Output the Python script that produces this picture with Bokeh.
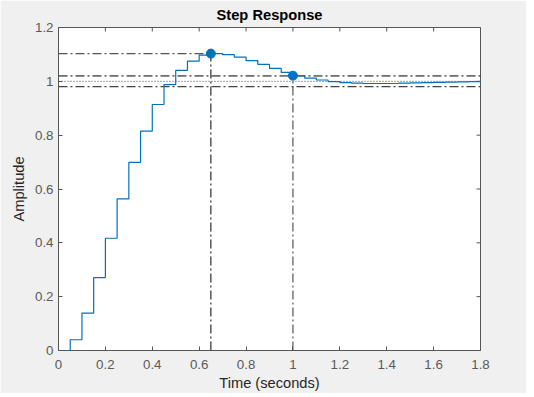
import math
from bokeh.plotting import figure
from bokeh.models import FixedTicker, CustomJSTickFormatter, Range1d
from bokeh.embed import file_html
from bokeh.resources import INLINE

# ---- data ----
time_s = [0.00, 0.05, 0.10, 0.15, 0.20, 0.25, 0.30, 0.35, 0.40, 0.45,
          0.50, 0.55, 0.60, 0.65, 0.70, 0.75, 0.80, 0.85, 0.90, 0.95,
          1.00, 1.05, 1.10, 1.15, 1.20, 1.25, 1.30, 1.35, 1.40, 1.45,
          1.50, 1.55, 1.60, 1.65, 1.70, 1.75, 1.80]
amplitude = [0.000, 0.040, 0.139, 0.271, 0.417, 0.563, 0.699, 0.815, 0.914, 0.988,
             1.041, 1.075, 1.097, 1.103, 1.099, 1.090, 1.077, 1.063, 1.048, 1.033,
             1.021, 1.012, 1.005, 0.999, 0.995, 0.993, 0.992, 0.992, 0.992, 0.993,
             0.994, 0.995, 0.996, 0.997, 0.998, 0.999, 1.000]

peak_time = 0.65
peak_amp = 1.103
settle_time = 1.00
settle_amp = 1.021
final_value = 1.0
band_upper = 1.02
band_lower = 0.98

x_ticks = [0, 0.2, 0.4, 0.6, 0.8, 1.0, 1.2, 1.4, 1.6, 1.8]
y_ticks = [0, 0.2, 0.4, 0.6, 0.8, 1.0, 1.2]
x_lim = (0, 1.8)
y_lim = (0, 1.2)

FONT = "Liberation Sans"
BLUE = "#0072BD"
AXC = "#555555"

p = figure(frame_width=422, frame_height=323,
           x_range=Range1d(*x_lim), y_range=Range1d(*y_lim),
           output_backend="svg", toolbar_location=None,
           min_border_left=58, min_border_right=46,
           min_border_top=27, min_border_bottom=39,
           title="Step Response")

p.background_fill_color = "white"
p.border_fill_color = "#f0f0f0"
p.outline_line_color = AXC
p.outline_line_width = 1
p.xgrid.visible = False
p.ygrid.visible = False

p.title.align = "center"
p.title.text_font = FONT
p.title.text_font_size = "11pt"
p.title.text_font_style = "bold"
p.title.text_color = "black"
p.title.standoff = 9

fmt = CustomJSTickFormatter(code="return Number(tick.toFixed(1)).toString();")

xa = p.xaxis[0]
xa.ticker = FixedTicker(ticks=x_ticks)
xa.formatter = fmt
xa.axis_label = "Time (seconds)"
ya = p.yaxis[0]
ya.ticker = FixedTicker(ticks=y_ticks)
ya.formatter = fmt
ya.axis_label = "Amplitude"

for ax in (xa, ya):
    ax.axis_line_color = None
    ax.major_tick_in = 4
    ax.major_tick_out = 0
    ax.major_tick_line_color = AXC
    ax.minor_tick_line_color = None
    ax.major_label_text_font = FONT
    ax.major_label_text_font_size = "10pt"
    ax.major_label_text_color = "#5a5a5a"
    ax.axis_label_text_font = FONT
    ax.axis_label_text_font_size = "11pt"
    ax.axis_label_text_font_style = "normal"
    ax.axis_label_text_color = "#262626"
xa.major_label_standoff = 9
xa.axis_label_standoff = 3
ya.major_label_standoff = 5
ya.axis_label_standoff = 5

# tick marks on the top and right edges of the box (half of each dash is clipped)
p.scatter(x=x_ticks, y=[y_lim[1]] * len(x_ticks), marker="dash", size=8,
          angle=math.pi / 2, line_color=AXC, line_width=1)
p.scatter(x=[x_lim[1]] * len(y_ticks), y=y_ticks, marker="dash", size=8,
          line_color=AXC, line_width=1)

# characteristic lines
dash = "9 3 2 3"
p.segment(x0=[x_lim[0]], y0=[peak_amp], x1=[peak_time], y1=[peak_amp],
          line_color="#555555", line_width=1.2, line_dash=dash)
p.segment(x0=[peak_time], y0=[y_lim[0]], x1=[peak_time], y1=[peak_amp],
          line_color="black", line_width=1, line_dash=dash)
p.segment(x0=[x_lim[0]], y0=[band_upper], x1=[x_lim[1]], y1=[band_upper],
          line_color="black", line_width=1, line_dash=dash)
p.segment(x0=[x_lim[0]], y0=[band_lower], x1=[x_lim[1]], y1=[band_lower],
          line_color="#444444", line_width=1.2, line_dash=dash)
p.segment(x0=[x_lim[0]], y0=[final_value], x1=[x_lim[1]], y1=[final_value],
          line_color="#444444", line_width=1, line_dash="1 2")
p.segment(x0=[settle_time], y0=[y_lim[0]], x1=[settle_time], y1=[settle_amp],
          line_color="#333333", line_width=1, line_dash=dash)

# response
p.step(time_s, amplitude, mode="after", line_color=BLUE, line_width=1.2)

# markers
p.scatter([peak_time, settle_time], [peak_amp, settle_amp], size=9,
          fill_color=BLUE, line_color=BLUE)

open("out.html", "w").write(file_html(p, INLINE))
